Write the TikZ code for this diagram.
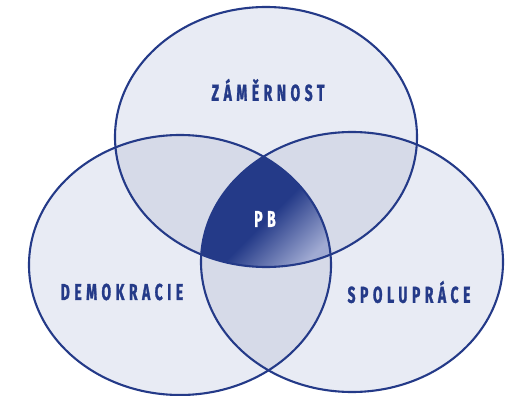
\documentclass[tikz,border=0pt]{standalone}
\usepackage{fontspec}
\setmainfont{Fira Sans}[FakeStretch=0.6,LetterSpace=20,BoldFeatures={FakeBold=1.2}]
\definecolor{navy}{HTML}{243A88}
\definecolor{paleone}{HTML}{E8EBF4}
\definecolor{paletwo}{HTML}{D6DAE8}
\definecolor{lightnavy}{HTML}{A0AAD2}
\pgfdeclareverticalshading{pbshade}{100bp}{color(0bp)=(lightnavy); color(25bp)=(lightnavy); color(48bp)=(navy); color(100bp)=(navy)}
\tikzset{
  vennline/.style={draw=navy, line width=2.1pt},
  vennlabel/.style={font=\bfseries\fontsize{23}{23}\selectfont, text=navy, inner sep=0pt},
  centerlabel/.style={font=\bfseries\fontsize{23}{23}\selectfont, text=white, inner sep=0pt}
}
\def\topE{(266,137) ellipse [x radius=151pt, y radius=130pt]}
\def\leftE{(180,265) ellipse [x radius=151pt, y radius=130pt]}
\def\rightE{(352,262) ellipse [x radius=151pt, y radius=130pt]}
\begin{document}
\begin{tikzpicture}[x=1pt,y=-1pt]
\useasboundingbox (0,0) rectangle (509,396);
\fill[white] (0,0) rectangle (509,396);
% single fills
\fill[paleone] \topE;
\fill[paleone] \leftE;
\fill[paleone] \rightE;
% pairwise
\begin{scope}\clip \topE; \fill[paletwo] \leftE; \fill[paletwo] \rightE; \end{scope}
\begin{scope}\clip \leftE; \fill[paletwo] \rightE; \end{scope}
% triple
\begin{scope}
  \clip \topE; \clip \leftE; \clip \rightE;
  \shade[shading=pbshade, shading angle=45] (196,156) rectangle (334,272);
\end{scope}
% outlines
\draw[vennline] \topE;
\draw[vennline] \leftE;
\draw[vennline] \rightE;
% labels
\node[vennlabel] (zam) at (268,90) {ZÁMĚRNOST};
\node[vennlabel] (dem) at (122,292) {DEMOKRACIE};
\node[vennlabel] (spo) at (409,292) {SPOLUPRÁCE};
\node[centerlabel] (pb) at (265,219) {PB};
\end{tikzpicture}
\end{document}
